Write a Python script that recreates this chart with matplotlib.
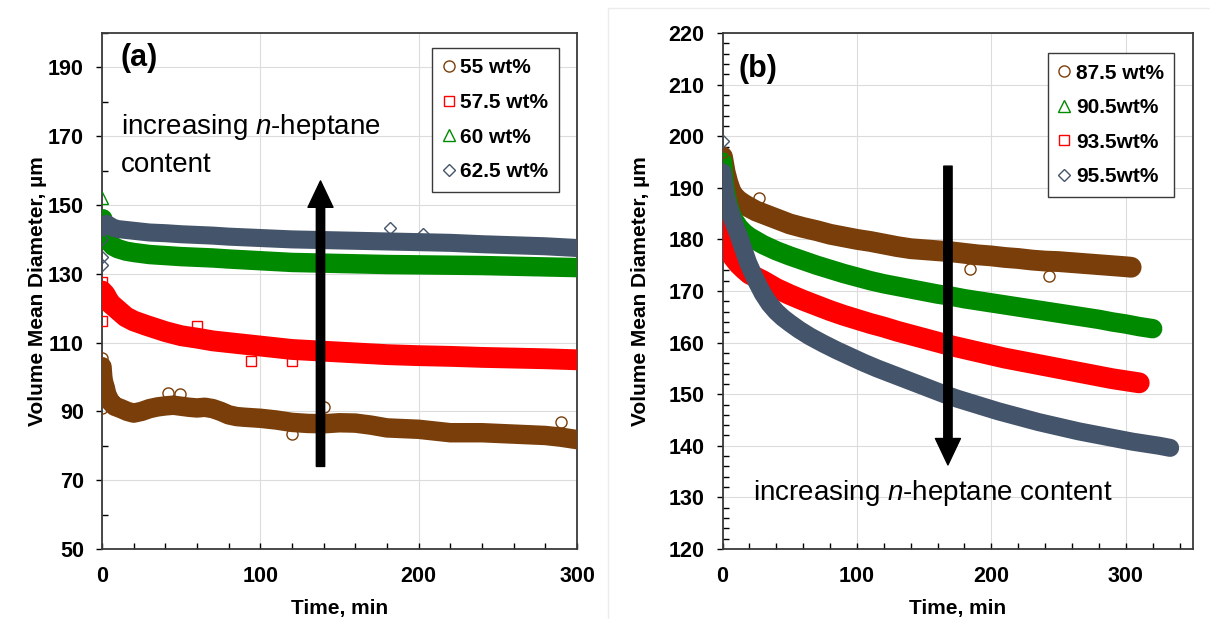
import matplotlib
matplotlib.use('Agg')
import matplotlib.pyplot as plt
from matplotlib.ticker import MultipleLocator
from matplotlib.lines import Line2D

plt.rcParams['font.family'] = 'Liberation Sans'
plt.rcParams['mathtext.fontset'] = 'custom'
plt.rcParams['mathtext.rm'] = 'Liberation Sans'
plt.rcParams['mathtext.it'] = 'Liberation Sans:italic'

# colours of the four series
brown = '#7a3e0a'
red = '#ff0000'
green = '#008a00'
slate = '#44546a'

# ---- panel (a) data, time in min, diameter in um ----
t_a55 = [0, 0.5, 1, 2, 3, 5, 8, 12, 16, 20, 25, 30, 35, 40, 45, 50, 55, 60, 65, 70, 75, 80, 85, 90, 100,
         110, 120, 130, 140, 150, 160, 170, 180, 190, 200, 210, 220, 230, 240, 250, 260, 270, 280, 290, 300]
d_a55 = [103, 100, 98.5, 97, 95, 93, 91.5, 90.8, 90, 89.5, 90, 90.8, 91.3, 91.6, 91.8, 91.5, 91.2, 91, 91.2, 90.8,
         90, 89, 88.5, 88.3, 88, 87.5, 86.8, 86.5, 86.4, 86.7, 86.6, 86, 85.2, 85, 84.8, 84.3, 83.8, 83.8, 83.8,
         83.6, 83.4, 83.2, 83, 82.5, 81.8]
t_a55_out = [0, 0, 41.5, 49, 120, 140, 290]
d_a55_out = [105.5, 91, 95.4, 95.2, 83.5, 91.3, 87]

t_a57 = [0, 1, 2, 5, 10, 15, 20, 28, 40, 50, 60, 70, 80, 100, 120, 140, 160, 180, 200, 220, 240, 260, 280, 300]
d_a57 = [125, 124.5, 124, 121.5, 119.5, 117.5, 116.3, 115, 113.2, 112, 111.3, 110.5, 110, 109, 108, 107.5,
         107, 106.5, 106.2, 106, 105.7, 105.5, 105.3, 105]
t_a57_out = [0, 0, 60, 94, 120]
d_a57_out = [116.4, 127.5, 114.9, 104.7, 104.7]

t_a60 = [0.5, 1, 2, 4, 7, 10, 15, 20, 30, 40, 50, 60, 70, 80, 100, 120, 140, 160, 180, 200, 220, 240, 260,
         280, 300]
d_a60 = [146, 143, 141, 139.5, 138, 137.3, 136.6, 136.2, 135.6, 135.3, 135, 134.8, 134.6, 134.3, 133.8, 133.3,
         133.1, 132.9, 132.7, 132.6, 132.5, 132.4, 132.2, 132, 131.8]
t_a60_out = [0]
d_a60_out = [152]

t_a62 = [0, 3, 7, 10, 20, 30, 40, 50, 60, 70, 80, 100, 120, 140, 160, 180, 200, 220, 240, 260, 280, 300]
d_a62 = [143.5, 144.5, 143.4, 143, 142.5, 142, 141.8, 141.5, 141.3, 141.1, 140.8, 140.4, 140, 139.8, 139.6,
         139.4, 139.2, 139, 138.6, 138.3, 138, 137.5]
t_a62_out = [0, 0, 0, 182, 203]
d_a62_out = [140, 135, 132.5, 143.3, 141.7]

# ---- panel (b) data ----
t_b87 = [0, 1, 2, 4, 6, 8, 12, 16, 20, 25, 30, 40, 50, 60, 70, 80, 90, 100, 110, 120, 130, 140, 150, 160,
         170, 180, 190, 200, 210, 220, 230, 240, 250, 260, 270, 280, 290, 300, 304]
d_b87 = [196, 194.5, 193, 191, 189.5, 188.5, 187.5, 186.8, 186.2, 185.5, 185, 184, 183, 182.3, 181.7, 181,
         180.5, 180, 179.6, 179.1, 178.6, 178.2, 178, 177.8, 177.6, 177.3, 177, 176.8, 176.5, 176.3, 176,
         175.8, 175.7, 175.5, 175.3, 175.1, 174.9, 174.7, 174.6]
t_b87_out = [0, 27, 184, 243]
d_b87_out = [197, 188, 174.2, 173]

t_b90 = [0, 1, 2, 4, 6, 8, 12, 16, 20, 30, 40, 50, 60, 70, 80, 90, 100, 110, 120, 130, 140, 150, 160, 170,
         180, 190, 200, 210, 220, 230, 240, 250, 260, 270, 280, 290, 300, 310, 320]
d_b90 = [195, 191.5, 189.5, 187, 185.3, 184, 182.4, 181.3, 180.5, 179, 177.8, 176.8, 175.9, 175, 174.2, 173.4,
         172.7, 172, 171.4, 170.9, 170.4, 169.9, 169.4, 169, 168.5, 168.1, 167.7, 167.3, 166.9, 166.5,
         166.1, 165.7, 165.3, 164.9, 164.5, 164, 163.6, 163.1, 162.7]

t_b93 = [0, 1, 2, 3, 5, 8, 12, 16, 20, 30, 40, 50, 60, 70, 80, 90, 100, 110, 120, 130, 140, 150, 160, 170,
         180, 190, 200, 210, 220, 230, 240, 250, 260, 270, 280, 290, 300, 310]
d_b93 = [190, 185, 182, 180, 178, 176.5, 175.2, 174.2, 173.3, 172, 170.5, 169.3, 168.2, 167.2, 166.2, 165.3,
         164.5, 163.7, 163, 162.2, 161.5, 160.8, 160.1, 159.4, 158.8, 158.2, 157.6, 157, 156.5, 156, 155.5,
         155, 154.5, 154, 153.5, 153, 152.6, 152.2]

t_b95 = [0, 1, 2, 3, 5, 8, 12, 15, 19, 25, 30, 35, 40, 45, 50, 57, 65, 75, 85, 95, 105, 115, 125, 135, 145,
         155, 165, 175, 185, 195, 205, 215, 225, 235, 245, 255, 265, 275, 285, 295, 305, 315, 325, 333]
d_b95 = [193, 191, 189, 187.8, 186, 183.5, 180.8, 178.5, 175.5, 172, 169.5, 167.5, 166, 164.8, 163.8, 162.5,
         161.2, 159.8, 158.5, 157.3, 156.1, 155, 154, 153, 152, 151, 150, 149.1, 148.3, 147.5, 146.7, 146,
         145.3, 144.6, 144, 143.4, 142.8, 142.3, 141.8, 141.3, 140.8, 140.4, 140, 139.6]
t_b95_out = [0]
d_b95_out = [199]


# 01 one series: a thick band through the readings plus hollow markers
def draw_series(ax, t, d, t_out, d_out, color, marker, label, band, ms):
    ax.plot(t, d, color=color, lw=band, solid_capstyle='round', solid_joinstyle='round', zorder=3)
    ax.plot(t_out, d_out, ls='none', marker=marker, ms=ms, mfc='none', mec=color, mew=1, zorder=4)
    # legend handle only
    ax.plot([], [], ls='none', marker=marker, ms=ms, mfc='none', mec=color, mew=1, label=label)


# 02 axes look
def style_axes(ax, xmax, yticks, yminor):
    ax.set_xlim(0, xmax)
    ax.set_yticks(yticks)
    ax.xaxis.set_major_locator(MultipleLocator(100))
    ax.xaxis.set_minor_locator(MultipleLocator(20))
    ax.yaxis.set_minor_locator(MultipleLocator(yminor))
    ax.grid(True, which='major', color='#dcdcdc', lw=0.8)
    ax.set_axisbelow(True)
    ax.tick_params(axis='y', which='major', direction='out', length=4, width=1, labelsize=15.5, pad=9)
    ax.tick_params(axis='x', which='major', direction='in', length=4, width=1, labelsize=15.5, pad=12)
    ax.tick_params(which='minor', direction='in', length=4, width=1)
    for lbl in ax.get_xticklabels() + ax.get_yticklabels():
        lbl.set_fontweight('bold')
    for sp in ax.spines.values():
        sp.set_color('#3a3a3a')
        sp.set_linewidth(1.3)
    ax.set_xlabel('Time, min', fontsize=15, fontweight='bold', labelpad=9)


def legend_box(ax, x, y):
    leg = ax.legend(loc='upper right', bbox_to_anchor=(x, y), borderaxespad=0, fancybox=False,
                    framealpha=1, edgecolor='#3a3a3a', handlelength=0.6, handletextpad=0.25,
                    labelspacing=0.75, borderpad=0.5, prop={'weight': 'bold', 'size': 15})
    leg.get_frame().set_linewidth(1.0)


def big_arrow(ax, x, y_from, y_to):
    ax.annotate('', xy=(x, y_to), xytext=(x, y_from), zorder=10,
                arrowprops=dict(facecolor='black', edgecolor='black', width=6, headwidth=18,
                                headlength=19, shrink=0))


# 03 build figure
fig = plt.figure(figsize=(12.1, 6.19), dpi=100)
ax_a = fig.add_axes([102 / 1210, 70 / 619, 475 / 1210, 516 / 619])
ax_b = fig.add_axes([722.5 / 1210, 70 / 619, 470.5 / 1210, 516 / 619])

draw_series(ax_a, t_a55, d_a55, t_a55_out, d_a55_out, brown, 'o', '55 wt%', 14, 8)
draw_series(ax_a, t_a57, d_a57, t_a57_out, d_a57_out, red, 's', '57.5 wt%', 15, 7.5)
draw_series(ax_a, t_a60, d_a60, t_a60_out, d_a60_out, green, '^', '60 wt%', 14, 8)
draw_series(ax_a, t_a62, d_a62, t_a62_out, d_a62_out, slate, 'D', '62.5 wt%', 13, 6.5)

style_axes(ax_a, 300, list(range(50, 200, 20)), 10)
ax_a.set_ylim(50, 200)
ax_a.set_ylabel('Volume Mean Diameter, \u00b5m', fontsize=15, fontweight='bold', labelpad=1)
legend_box(ax_a, 0.962, 0.971)
ax_a.text(12, 197, '(a)', fontsize=22, fontweight='bold', va='top')
ax_a.text(12, 177, r'increasing $n$-heptane', fontsize=20, va='top')
ax_a.text(12, 165.5, 'content', fontsize=20, va='top')
big_arrow(ax_a, 138, 74, 157)

draw_series(ax_b, t_b87, d_b87, t_b87_out, d_b87_out, brown, 'o', '87.5 wt%', 15, 8)
draw_series(ax_b, t_b90, d_b90, [], [], green, '^', '90.5wt%', 14, 8)
draw_series(ax_b, t_b93, d_b93, [], [], red, 's', '93.5wt%', 15, 7.5)
draw_series(ax_b, t_b95, d_b95, t_b95_out, d_b95_out, slate, 'D', '95.5wt%', 13, 6.5)

style_axes(ax_b, 350, list(range(120, 230, 10)), 2)
ax_b.set_ylim(120, 220)
ax_b.set_ylabel('Volume Mean Diameter, \u00b5m', fontsize=15, fontweight='bold', labelpad=13)
legend_box(ax_b, 0.96, 0.961)
ax_b.text(12, 216, '(b)', fontsize=22, fontweight='bold', va='top')
ax_b.text(23, 130.9, r'increasing $n$-heptane content', fontsize=20, va='center')
big_arrow(ax_b, 167.7, 194.2, 136.3)

# faint frame round panel (b)
fig.add_artist(Line2D([608 / 1210, 608 / 1210], [0, 1 - 8 / 619], color='#ececec', lw=1))
fig.add_artist(Line2D([608 / 1210, 1], [1 - 8 / 619, 1 - 8 / 619], color='#ececec', lw=1))

fig.savefig('out.png', dpi=100)
